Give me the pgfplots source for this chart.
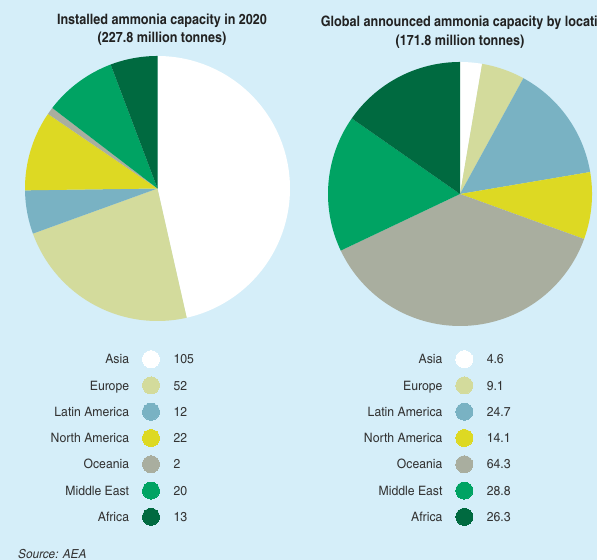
\documentclass[border=0pt]{standalone}
\usepackage{pgfplots}
\pgfplotsset{compat=1.18}
\usepackage{fontspec}
\setmainfont{TeX Gyre Heros Cn}[FakeStretch=1.15]
\newfontfamily\titlefamily{TeX Gyre Heros Cn}[FakeStretch=1.07]
\definecolor{bg}{HTML}{D5EEF9}
\definecolor{cAsia}{HTML}{FFFFFF}
\definecolor{cEur}{HTML}{D3DB9C}
\definecolor{cLat}{HTML}{79B2C3}
\definecolor{cNA}{HTML}{DDD923}
\definecolor{cOce}{HTML}{A9AE9F}
\definecolor{cME}{HTML}{00A363}
\definecolor{cAfr}{HTML}{006A40}
\definecolor{txt}{HTML}{333333}
\definecolor{ttl}{HTML}{222222}

\newcommand\lfont{\fontsize{13}{15}\selectfont}
\newcommand\tfont{\titlefamily\bfseries\fontsize{14.4}{17}\selectfont}

% one wedge: #1 value, #2 colour; uses \cum (running sum) and \tot (total)
\newcommand\pieslice[2]{%
  \pgfmathsetmacro\sa{90-(360/\tot)*\cum}%
  \pgfmathsetmacro\sb{90-(360/\tot)*(\cum+#1)}%
  \edef\doslice{\noexpand\addplot[fill=#2,draw=none,domain=\sb:\sa,samples=90,variable=\noexpand\t]
    ({cos(\noexpand\t)},{sin(\noexpand\t)}) -- (axis cs:0,0) -- cycle;}%
  \doslice
  \pgfmathsetmacro\newcum{\cum+#1}\xdef\cum{\newcum}%
}
\newcommand\legmark[2]{%
  \addplot[only marks, mark=*, color=#2, mark size=8.5bp, mark options={fill=#2, draw=#2, line width=0pt}] coordinates {(0,#1)};}

\pgfplotsset{
  pieaxis/.style={scale only axis, width=265bp, height=265bp,
    xmin=-1, xmax=1, ymin=-1, ymax=1, hide axis, clip=false, anchor=center},
  legaxis/.style={scale only axis, width=42bp, height=184bp, anchor=center,
    xmin=-1, xmax=1, ymin=-0.5, ymax=6.5, y dir=reverse, clip=false,
    axis line style={draw=none}, xtick=\empty, ytick={0,...,6},
    major tick length=0pt,
    yticklabels={Asia,Europe,Latin America,North America,Oceania,Middle East,Africa},
    yticklabel style={anchor=base east, inner sep=0pt, xshift=-0.7bp, yshift=-4.6bp, font=\lfont, text=txt}},
  valplot/.style={only marks, mark=*, mark size=0pt, mark options={draw=none, fill=none},
    nodes near coords, point meta=explicit symbolic,
    nodes near coords style={anchor=base west, inner sep=0pt, xshift=1.3bp, yshift=-4.6bp, font=\lfont, text=txt}}
}

\begin{document}
\begin{tikzpicture}[x=1bp,y=1bp]
\clip (0,0) rectangle (597,560);
\fill[bg] (0,0) rectangle (597,560);

% titles
\node[anchor=base, font=\tfont, text=ttl, inner sep=0pt] at (162,535) {Installed ammonia capacity in 2020};
\node[anchor=base, font=\tfont, text=ttl, inner sep=0pt] at (162,517.3) {(227.8 million tonnes)};
\node[anchor=base west, font=\tfont, text=ttl, inner sep=0pt] at (320.7,533.3) {Global announced ammonia capacity by location};
\node[anchor=base, font=\tfont, text=ttl, inner sep=0pt] at (460,514.3) {(171.8 million tonnes)};

% left pie
\begin{axis}[pieaxis, at={(157.5bp,371.5bp)}]
  \xdef\cum{0}\def\tot{226}
  \pieslice{105}{cAsia}
  \pieslice{52}{cEur}
  \pieslice{12}{cLat}
  \pieslice{22}{cNA}
  \pieslice{2}{cOce}
  \pieslice{20}{cME}
  \pieslice{13}{cAfr}
\end{axis}

% right pie
\begin{axis}[pieaxis, at={(460bp,366bp)}, width=264bp, height=264bp]
  \xdef\cum{0}\def\tot{171.9}
  \pieslice{4.6}{cAsia}
  \pieslice{9.1}{cEur}
  \pieslice{24.7}{cLat}
  \pieslice{14.1}{cNA}
  \pieslice{64.3}{cOce}
  \pieslice{28.8}{cME}
  \pieslice{26.3}{cAfr}
\end{axis}

% left legend
\begin{axis}[legaxis, at={(151bp,122bp)}]
  \legmark{0}{cAsia}\legmark{1}{cEur}\legmark{2}{cLat}\legmark{3}{cNA}
  \legmark{4}{cOce}\legmark{5}{cME}\legmark{6}{cAfr}
  \addplot[valplot] table[meta=v] {
x y v
1 0 105
1 1 52
1 2 12
1 3 22
1 4 2
1 5 20
1 6 13
};
\end{axis}

% right legend
\begin{axis}[legaxis, at={(464.3bp,122bp)}]
  \legmark{0}{cAsia}\legmark{1}{cEur}\legmark{2}{cLat}\legmark{3}{cNA}
  \legmark{4}{cOce}\legmark{5}{cME}\legmark{6}{cAfr}
  \addplot[valplot] table[meta=v] {
x y v
1 0 4.6
1 1 9.1
1 2 24.7
1 3 14.1
1 4 64.3
1 5 28.8
1 6 26.3
};
\end{axis}

\node[anchor=base west, font=\itshape\fontsize{12.5}{14}\selectfont, text=txt, inner sep=0pt] at (18,1.5) {Source: AEA};
\end{tikzpicture}
\end{document}
